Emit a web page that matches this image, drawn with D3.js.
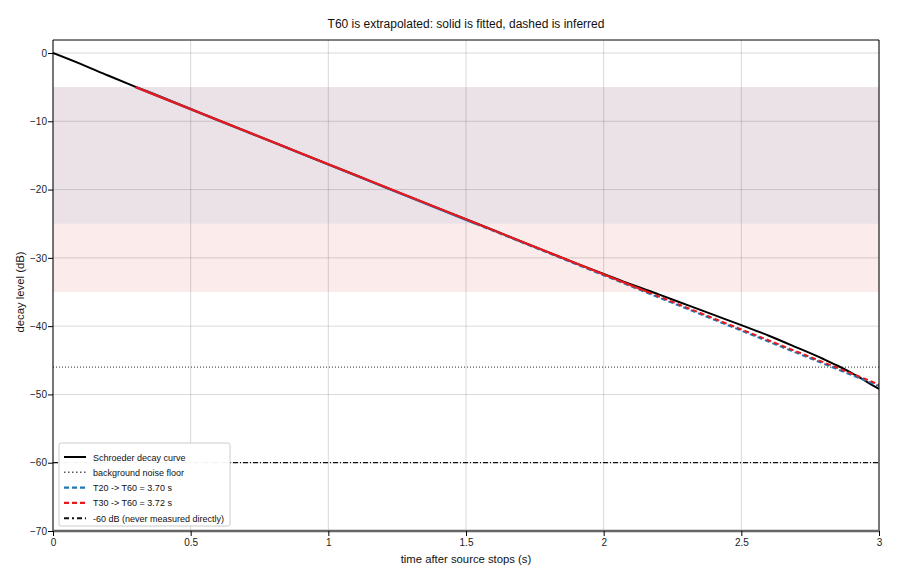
<!DOCTYPE html>
<html><head><meta charset="utf-8">
<script src="https://cdn.jsdelivr.net/npm/d3@7"></script>
<style>body{margin:0;background:#fff;font-family:"Liberation Sans",Arial,sans-serif;}</style>
</head><body><svg id="c" width="900" height="580"></svg>
<script>
// ---- data ----
const times = [0,0.1,0.2,0.3,0.4,0.5,0.6,0.7,0.8,0.9,1.0,1.1,1.2,1.3,1.4,1.5,1.6,1.7,1.8,1.9,2.0,2.1,2.2,2.3,2.4,2.5,2.6,2.7,2.8,2.85,2.9,2.95,3.0];
const schroeder = [0,-1.6,-3.3,-4.95,-6.55,-8.2,-9.85,-11.45,-13.05,-14.7,-16.3,-17.9,-19.55,-21.15,-22.75,-24.35,-25.95,-27.6,-29.2,-30.8,-32.35,-33.9,-35.35,-36.85,-38.35,-39.85,-41.4,-43.1,-44.85,-45.8,-46.85,-48.0,-49.2];
const noiseFloor = -46;
const minus60 = -60;
const t20 = {label:"T20 -> T60 = 3.70 s", t60:3.70, intercept:-0.12, fitTop:-5, fitBottom:-25};
const t30 = {label:"T30 -> T60 = 3.72 s", t60:3.72, intercept:-0.16, fitTop:-5, fitBottom:-35};
const xTicks = [0,0.5,1,1.5,2,2.5,3];
const xTickLabels = ["0","0.5","1","1.5","2","2.5","3"];
const yTicks = [0,-10,-20,-30,-40,-50,-60,-70];
const legendLabels = ["Schroeder decay curve","background noise floor",t20.label,t30.label,"-60 dB (never measured directly)"];

// ---- layout ----
const svg = d3.select("#c");
const m = {l:53, r:879, t:40, b:531};
const x = d3.scaleLinear().domain([0,3]).range([m.l,m.r]);
const y = d3.scaleLinear().domain([-70,0]).range([m.b,53]);
const blue = "#1f77b4", red = "#e8191c";

svg.append("defs").append("clipPath").attr("id","clip")
  .append("rect").attr("x",m.l).attr("y",m.t).attr("width",m.r-m.l).attr("height",m.b-m.t);

// bands
svg.append("rect").attr("x",m.l).attr("width",m.r-m.l)
  .attr("y",y(t30.fitTop)).attr("height",y(t30.fitBottom)-y(t30.fitTop)).attr("fill","#fbebeb");
svg.append("rect").attr("x",m.l).attr("width",m.r-m.l)
  .attr("y",y(t20.fitTop)).attr("height",y(t20.fitBottom)-y(t20.fitTop)).attr("fill","#ebe2e8");

// grid
const g = svg.append("g");
g.selectAll(".gx").data(xTicks).join("line").attr("x1",d=>x(d)).attr("x2",d=>x(d))
  .attr("y1",m.t).attr("y2",m.b).attr("stroke","#000").attr("stroke-opacity",0.15).attr("stroke-width",1);
g.selectAll(".gy").data(yTicks).join("line").attr("y1",d=>y(d)).attr("y2",d=>y(d))
  .attr("x1",m.l).attr("x2",m.r).attr("stroke","#000").attr("stroke-opacity",0.15).attr("stroke-width",1);

const plot = svg.append("g").attr("clip-path","url(#clip)");

// horizontal reference lines
plot.append("line").attr("x1",m.l).attr("x2",m.r).attr("y1",y(noiseFloor)).attr("y2",y(noiseFloor))
  .attr("stroke","#555").attr("stroke-width",1.2).attr("stroke-dasharray","1,2");
plot.append("line").attr("x1",m.l).attr("x2",m.r).attr("y1",y(minus60)).attr("y2",y(minus60))
  .attr("stroke","#111").attr("stroke-width",1.2).attr("stroke-dasharray","5,2,1,2");

// schroeder
const line = d3.line().x(d=>x(d[0])).y(d=>y(d[1])).curve(d3.curveMonotoneX);
plot.append("path").datum(times.map((t,i)=>[t,schroeder[i]]))
  .attr("d",line).attr("fill","none").attr("stroke","#000").attr("stroke-width",2);

// fits
const straight = d3.line().x(d=>x(d[0])).y(d=>y(d[1]));
function drawFit(f,col){
  const slope = -60/f.t60;
  const tAt = L => (L - f.intercept)/slope;
  const ta = tAt(f.fitTop), tb = tAt(f.fitBottom), tc = tAt(-60);
  plot.append("path").datum([[ta,f.fitTop],[tb,f.fitBottom]]).attr("d",straight)
    .attr("fill","none").attr("stroke",col).attr("stroke-width",2.2);
  plot.append("path").datum([[tb,f.fitBottom],[tc,-60]]).attr("d",straight)
    .attr("fill","none").attr("stroke",col).attr("stroke-width",2).attr("stroke-dasharray","5,3");
}
drawFit(t20,blue);
drawFit(t30,red);

// frame
svg.append("line").attr("x1",m.l).attr("x2",m.l).attr("y1",m.t).attr("y2",m.b).attr("stroke","#000");
svg.append("line").attr("x1",m.r).attr("x2",m.r).attr("y1",m.t).attr("y2",m.b+1).attr("stroke","#000");
svg.append("line").attr("x1",m.l).attr("x2",m.r).attr("y1",m.t).attr("y2",m.t).attr("stroke","#000");
svg.append("line").attr("x1",m.l).attr("x2",m.r).attr("y1",m.b).attr("y2",m.b).attr("stroke","#666").attr("stroke-width",2.5);

// axes
const ax = svg.append("g").attr("transform",`translate(0,${m.b})`)
  .call(d3.axisBottom(x).tickValues(xTicks).tickFormat((d,i)=>xTickLabels[i]).tickSize(5).tickSizeOuter(0));
const ay = svg.append("g").attr("transform",`translate(${m.l},0)`)
  .call(d3.axisLeft(y).tickValues(yTicks).tickFormat(d3.format("d")).tickSize(5).tickSizeOuter(0));
[ax,ay].forEach(a=>{a.select(".domain").remove();
  a.selectAll("text").attr("font-family","Liberation Sans, Arial, sans-serif").attr("font-size",10).attr("fill","#222");
  a.selectAll("line").attr("stroke","#000");});
ay.selectAll("text").attr("x",-6);
ax.selectAll("text").attr("y",8);

// titles
svg.append("text").attr("x",(m.l+m.r)/2).attr("y",28).attr("text-anchor","middle")
  .attr("font-size",12).attr("fill","#111").text("T60 is extrapolated: solid is fitted, dashed is inferred");
svg.append("text").attr("x",(m.l+m.r)/2).attr("y",563).attr("text-anchor","middle")
  .attr("font-size",11.3).attr("fill","#111").text("time after source stops (s)");
svg.append("text").attr("transform",`translate(24,${(53+m.b)/2}) rotate(-90)`).attr("text-anchor","middle")
  .attr("font-size",11.3).attr("fill","#111").text("decay level (dB)");

// legend
const lg = svg.append("g").attr("transform","translate(59,443)");
lg.append("rect").attr("width",171).attr("height",83).attr("fill","#fff").attr("fill-opacity",0.95)
  .attr("stroke","#ccc").attr("rx",2);
const styles = [
  {c:"#000",w:2,d:null},
  {c:"#555",w:1.5,d:"1.5,2.5"},
  {c:blue,w:2.2,d:"5,3"},
  {c:red,w:2.2,d:"5,3"},
  {c:"#111",w:2,d:"5,3,2,3"}];
legendLabels.forEach((lab,i)=>{
  const yy = 14 + i*15.3;
  lg.append("line").attr("x1",5).attr("x2",27).attr("y1",yy).attr("y2",yy)
    .attr("stroke",styles[i].c).attr("stroke-width",styles[i].w).attr("stroke-dasharray",styles[i].d);
  lg.append("text").attr("x",34).attr("y",yy+3.5).attr("font-size",9).attr("fill","#111").text(lab);
});
</script></body></html>
